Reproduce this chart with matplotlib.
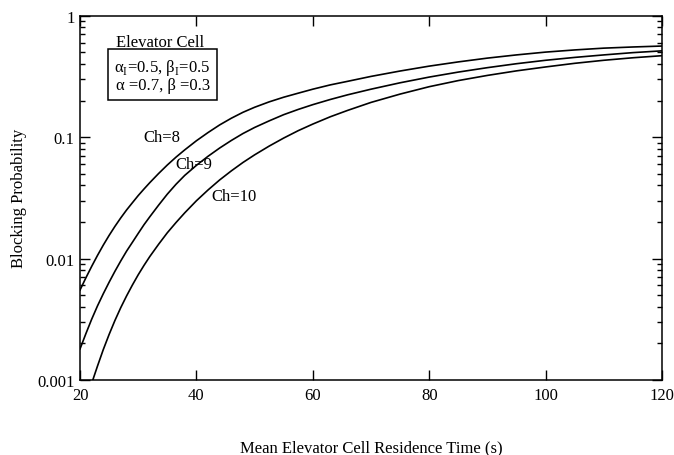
import matplotlib
matplotlib.use("Agg")
import matplotlib.pyplot as plt
from matplotlib.ticker import FixedLocator, FixedFormatter, LogLocator, NullFormatter, NullLocator

# mean elevator cell residence time (s) and blocking probability
time_s = [20, 21, 22, 23, 24, 25, 26, 27, 28, 29, 30, 31, 32, 33.5, 35, 36.5, 38, 40, 42, 44,
          46, 48, 50, 52.5, 55, 57.5, 60, 63, 66, 70, 75, 80, 85, 90, 95, 100, 105, 110, 115, 120]
ch8 = [0.00550, 0.00692, 0.00861, 0.0106, 0.0129, 0.0155, 0.0184, 0.0216, 0.0251, 0.0288,
       0.0330, 0.0374, 0.0422, 0.0501, 0.0589, 0.0684, 0.0785, 0.0933, 0.109, 0.126,
       0.143, 0.160, 0.176, 0.195, 0.213, 0.230, 0.248, 0.269, 0.288, 0.316,
       0.350, 0.384, 0.416, 0.447, 0.475, 0.501, 0.522, 0.540, 0.552, 0.562]
ch9 = [0.00180, 0.00240, 0.00316, 0.00407, 0.00513, 0.00638, 0.00785, 0.00955, 0.0115, 0.0136,
       0.0161, 0.0190, 0.0221, 0.0275, 0.0339, 0.0409, 0.0484, 0.0585, 0.0695, 0.0813,
       0.0938, 0.107, 0.120, 0.136, 0.153, 0.169, 0.185, 0.204, 0.223, 0.248,
       0.280, 0.312, 0.343, 0.373, 0.402, 0.429, 0.453, 0.475, 0.496, 0.513]
time_s10 = [22.2, 23, 24, 25, 26, 27, 28, 29, 30, 31, 32, 33.5, 35, 36.5, 38, 40, 42, 44,
            46, 48, 50, 52.5, 55, 57.5, 60, 63, 66, 70, 75, 80, 85, 90, 95, 100, 105, 110, 115, 120]
ch10 = [0.00100, 0.00130, 0.00178, 0.00237, 0.00309, 0.00394, 0.00492, 0.00605, 0.00735, 0.00879,
        0.0104, 0.0131, 0.0163, 0.0198, 0.0238, 0.0299, 0.0367, 0.0444,
        0.0527, 0.0618, 0.0714, 0.0843, 0.0982, 0.113, 0.128, 0.147, 0.166, 0.193,
        0.226, 0.260, 0.292, 0.322, 0.351, 0.378, 0.405, 0.429, 0.450, 0.468]

x_ticks = [20, 40, 60, 80, 100, 120]
y_ticks = [0.001, 0.01, 0.1, 1]
y_tick_labels = ["0.001", "0.01", "0.1", "1"]

plt.rcParams["font.family"] = ["Liberation Serif", "DejaVu Serif"]
plt.rcParams["mathtext.fontset"] = "custom"
plt.rcParams["mathtext.rm"] = "Liberation Serif"

fig = plt.figure(figsize=(6.74, 4.56), dpi=100)
ax = fig.add_axes([0.1187, 0.1645, 0.8635, 0.799])

for xs, ys in [(time_s, ch8), (time_s, ch9), (time_s10, ch10)]:
    ax.plot(xs, ys, color="black", lw=1.2)

ax.set_yscale("log")
ax.set_xlim(20, 120)
ax.set_ylim(0.001, 1)

ax.xaxis.set_major_locator(FixedLocator(x_ticks))
ax.xaxis.set_minor_locator(NullLocator())
ax.yaxis.set_major_locator(FixedLocator(y_ticks))
ax.yaxis.set_major_formatter(FixedFormatter(y_tick_labels))
ax.yaxis.set_minor_locator(LogLocator(base=10, subs=range(2, 10)))
ax.yaxis.set_minor_formatter(NullFormatter())

ax.tick_params(which="both", direction="in", top=True, right=True, width=1.0)
ax.tick_params(which="major", length=7)
ax.tick_params(which="minor", length=3.5)
ax.tick_params(axis="x", labelsize=12, pad=5)
ax.tick_params(axis="y", labelsize=12, pad=4)
for sp in ax.spines.values():
    sp.set_linewidth(1.1)

ax.set_xlabel("Mean Elevator Cell Residence Time (s)", fontsize=12, labelpad=26)
ax.set_ylabel("Blocking Probability", fontsize=12, labelpad=7)

# annotations
ax.text(0.137, 0.927, "Elevator Cell", transform=ax.transAxes, fontsize=12,
        ha="center", va="center")
ax.text(0.142, 0.836, "α$_{\\rm I}$=0.5, β$_{\\rm I}$=0.5\nα =0.7, β =0.3",
        transform=ax.transAxes, fontsize=12, ha="center", va="center", linespacing=1.0,
        bbox=dict(boxstyle="square,pad=0.38", facecolor="white", edgecolor="black", lw=1.1))

ax.text(34.0, 0.1, "Ch=8", fontsize=12, ha="center", va="center")
ax.text(39.5, 0.060, "Ch=9", fontsize=12, ha="center", va="center")
ax.text(46.5, 0.033, "Ch=10", fontsize=12, ha="center", va="center")

fig.savefig("out.png", dpi=100)
